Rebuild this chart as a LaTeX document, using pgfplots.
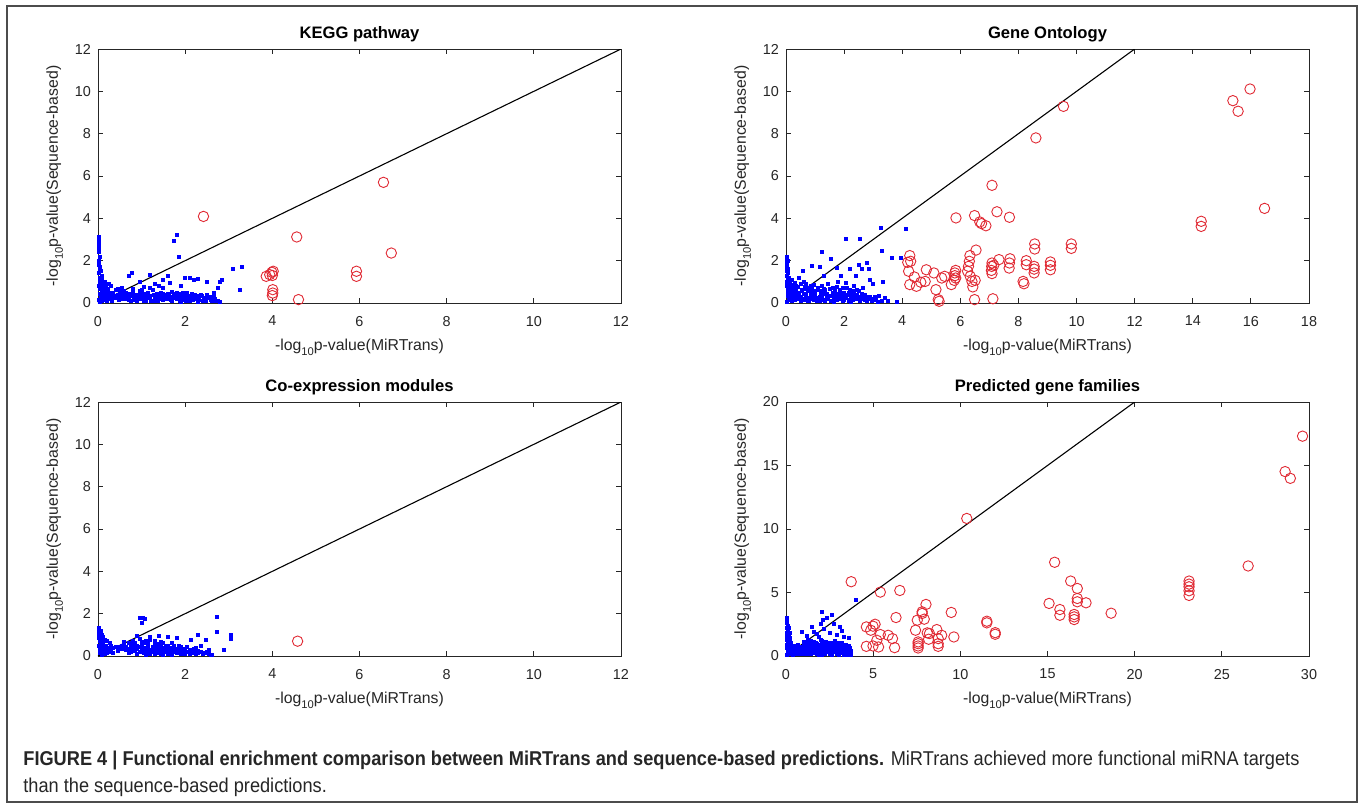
\documentclass[border=0pt]{standalone}
\usepackage{fontspec}
\setmainfont{Liberation Sans}
\newfontfamily\capfont[FakeStretch=0.91]{Liberation Sans}
\usepackage{pgfplots}
\pgfplotsset{compat=1.18}

\definecolor{mred}{rgb}{0.88,0.16,0.2}
\definecolor{mblue}{rgb}{0,0,1}
\definecolor{axgray}{gray}{0.15}

\newcommand{\mlog}{-log\raisebox{-0.6ex}{\fontsize{5.6}{6}\selectfont 10}}

\pgfplotsset{
  panel/.style={
    scale only axis, width=261.5pt, height=127pt,
    xmin=0, ymin=0,
    axis line style={axgray, line width=0.4pt},
    major tick length=2.5pt,
    every tick/.style={axgray, line width=0.4pt},
    tick label style={font=\fontsize{7.2}{8}\selectfont, text=axgray},
    /pgf/number format/assume math mode=true,
    xticklabel style={yshift=-3pt},
    every axis title/.style={at={(0.5,1)}, anchor=south,
      font=\bfseries\fontsize{8.3}{9}\selectfont},
    every axis x label/.style={at={(0.5,0)}, anchor=north, yshift=-14.5pt,
      font=\fontsize{7.9}{9}\selectfont, text=axgray},
    every axis y label/.style={at={(0,0.5)}, xshift=-14pt, rotate=90, anchor=south,
      font=\fontsize{7.9}{9}\selectfont, text=axgray},
    xlabel={\mlog p-value(MiRTrans)},
    ylabel={\mlog p-value(Sequence-based)},
  },
  blu/.style={only marks, mark=square*, mark size=0.75pt, color=mblue},
  rdo/.style={only marks, mark=o, mark size=2.6pt, color=mred, mark options={line width=0.45pt}},
  diag/.style={black, line width=0.55pt},
}

\begin{document}
\begin{tikzpicture}
\path[use as bounding box] (0,0) rectangle (681pt,-404pt);
\draw[gray!60!black, line width=0.7pt] (3.5pt,-3pt) rectangle (678.5pt,-401pt);

% KEGG pathway
\begin{axis}[panel, at={(49pt,-151.5pt)}, anchor=south west,
  title={KEGG pathway}, xmax=12, ymax=12, xtick={0,2,...,12}, ytick={0,2,...,12}]
\addplot[blu] coordinates {
(0.02,3.1)(0.02,3.0)(0.03,2.9)(0.02,2.8)(0.03,2.6)(0.02,2.4)(0.04,2.2)(0.03,2.0)(0.02,1.8)(0.05,1.7)
(0.04,1.6)(0.06,1.5)(0.03,1.4)(0.08,1.3)(0.05,1.2)(0.1,1.1)(0.04,1.0)(0.12,0.95)(0.07,0.9)(0.15,0.85)
(0.03,0.8)(0.1,0.75)(0.18,0.7)(0.05,0.65)(0.13,0.6)(0.2,0.55)(0.08,0.5)(0.25,0.5)(0.04,0.45)(0.16,0.4)
(0.3,0.42)(0.1,0.35)(0.22,0.3)(0.06,0.25)(0.35,0.28)(0.14,0.2)(0.03,0.15)(0.28,0.18)(0.09,0.1)(0.2,0.08)
(0.05,0.05)(0.4,0.35)(0.45,0.4)(0.5,0.45)(0.55,0.5)(0.6,0.55)(0.38,0.25)
(0.5,0.3)(0.6,0.38)(0.65,0.2)(0.7,0.45)(0.75,0.32)(0.8,0.5)(0.85,0.25)(0.9,0.4)(0.95,0.55)(1.0,0.3)
(1.05,0.45)(1.1,0.2)(1.15,0.5)(1.2,0.35)(1.25,0.6)(1.3,0.25)(1.35,0.42)(1.4,0.3)(1.45,0.5)(1.5,0.15)
(1.55,0.38)(1.6,0.45)(1.65,0.28)(1.7,0.52)(1.75,0.35)(1.8,0.2)(1.85,0.42)(1.9,0.3)(1.95,0.48)(2.0,0.25)
(2.05,0.38)(2.1,0.12)(2.15,0.45)(2.2,0.3)(2.25,0.2)(2.3,0.35)(2.4,0.1)(2.45,0.25)(2.5,0.4)(2.6,0.15)
(2.7,0.08)(2.8,0.05)(0.7,0.15)(0.9,0.1)(1.1,0.08)(1.3,0.12)(1.7,0.1)(1.9,0.07)(2.3,0.06)(1.0,0.6)
(1.2,0.7)(0.8,0.65)(0.55,0.2)(0.75,0.1)(0.95,0.18)(1.15,0.3)(1.35,0.2)(1.55,0.25)(1.75,0.45)(1.95,0.15)
(2.15,0.22)(2.35,0.4)(2.55,0.3)(2.65,0.35)(1.05,0.1)(1.45,0.35)(1.85,0.3)(2.05,0.5)
(0.15,0.15)(0.25,0.35)(0.32,0.12)(0.42,0.22)(0.48,0.15)(0.58,0.42)(0.62,0.28)(0.68,0.35)(0.72,0.25)(0.78,0.42)
(0.82,0.15)(0.88,0.32)(0.92,0.22)(0.98,0.42)(1.02,0.18)(1.08,0.35)(1.12,0.42)(1.18,0.22)(1.22,0.12)(1.28,0.4)
(1.32,0.32)(1.38,0.1)(1.42,0.18)(1.48,0.42)(1.52,0.3)(1.58,0.2)(1.62,0.35)(1.68,0.15)(1.72,0.25)(1.78,0.3)
(1.82,0.5)(1.88,0.12)(1.92,0.4)(1.98,0.35)(2.02,0.12)(2.08,0.28)(2.12,0.35)(2.18,0.15)(2.22,0.4)(2.28,0.28)
(2.32,0.15)(2.38,0.32)(2.42,0.2)(2.48,0.12)(2.52,0.22)(2.58,0.28)(2.62,0.08)(2.68,0.2)(2.75,0.12)(0.12,0.5)
(0.22,0.65)(0.08,0.7)(0.3,0.8)(0.15,1.0)(0.06,1.15)(0.25,0.9)(0.45,0.65)(0.35,0.5)(0.5,0.6)(0.65,0.5)
(0.7,1.3)(0.78,1.4)(0.95,1.0)(1.2,1.35)(1.3,0.9)(1.5,1.1)(1.6,1.3)(1.65,0.95)(1.75,2.95)(1.82,3.2)
(1.85,2.2)(2.0,1.2)(2.1,1.2)(2.2,1.1)(2.3,1.15)(2.5,1.0)(2.8,1.0)(2.85,1.1)(3.1,1.6)(3.3,1.7)
(3.25,0.6)(2.65,0.5)(2.75,0.7)(1.4,0.8)(0.55,0.7)(0.4,0.6)(1.05,0.75)(1.5,0.7)(1.9,0.8)
};
\addplot[rdo] coordinates {
(2.42,4.09)(6.55,5.70)(4.56,3.12)(6.73,2.36)(5.93,1.50)(5.93,1.26)
(3.86,1.26)(3.94,1.34)(3.99,1.45)(4.02,1.50)(4.00,1.30)
(4.01,0.63)(4.01,0.47)(4.00,0.35)(4.60,0.16)
};
\addplot[diag] coordinates {(0,0)(12,12)};
\end{axis}

% Gene Ontology
\begin{axis}[panel, at={(393pt,-151.5pt)}, anchor=south west,
  title={Gene Ontology}, xmax=18, ymax=12, xtick={0,2,...,18}, ytick={0,2,...,12}]
\addplot[blu] coordinates {
(0.02,2.2)(0.03,2.1)(0.05,2.0)(0.02,1.9)(0.04,1.8)(0.03,1.7)(0.06,1.6)(0.02,1.5)(0.08,1.4)(0.04,1.3)
(0.1,1.2)(0.05,1.1)(0.12,1.05)(0.03,1.0)(0.15,0.95)(0.07,0.9)(0.2,0.85)(0.04,0.8)(0.1,0.75)(0.25,0.7)
(0.06,0.65)(0.18,0.6)(0.3,0.55)(0.08,0.5)(0.22,0.45)(0.35,0.4)(0.05,0.35)(0.14,0.3)(0.28,0.25)(0.4,0.2)
(0.09,0.15)(0.2,0.1)(0.5,0.08)(0.03,0.05)(0.45,0.5)(0.55,0.55)(0.65,0.65)(0.75,0.7)(0.85,0.8)(0.6,1.0)
(0.5,0.9)(0.4,0.75)
(0.5,0.3)(0.6,0.15)(0.7,0.4)(0.8,0.25)(0.9,0.55)(1.0,0.35)(1.1,0.6)(1.2,0.2)(1.3,0.45)(1.4,0.3)
(1.5,0.65)(1.6,0.1)(1.7,0.4)(1.8,0.25)(1.9,0.5)(2.0,0.35)(2.1,0.7)(2.2,0.15)(2.3,0.45)(2.4,0.3)
(2.5,0.55)(2.6,0.2)(2.7,0.4)(2.8,0.1)(2.9,0.3)(3.0,0.2)(3.1,0.15)(3.3,0.1)(3.5,0.08)(3.8,0.06)
(0.65,0.75)(0.95,0.85)(1.25,0.8)(1.45,0.9)(1.75,0.75)(2.05,0.95)(2.35,0.8)(2.65,0.7)(0.75,0.1)(1.05,0.12)
(1.35,0.08)(1.65,0.05)(1.95,0.1)(2.25,0.06)(2.55,0.1)(0.85,0.45)(1.15,0.3)(1.55,0.35)(1.85,0.6)(2.15,0.5)
(2.45,0.6)(2.75,0.25)(3.2,0.35)(3.4,0.25)(0.55,0.6)(1.0,0.55)(1.3,0.65)(1.6,0.5)(2.0,0.15)(2.3,0.25)
(0.9,0.2)(1.2,0.4)(1.7,0.2)(2.6,0.45)
(0.15,0.5)(0.25,0.35)(0.3,0.15)(0.35,0.6)(0.45,0.3)(0.55,0.2)(0.6,0.45)(0.7,0.25)(0.75,0.55)(0.8,0.1)
(0.85,0.35)(0.9,0.65)(0.95,0.15)(1.0,0.45)(1.05,0.25)(1.1,0.7)(1.15,0.1)(1.2,0.55)(1.25,0.3)(1.3,0.15)
(1.35,0.6)(1.4,0.45)(1.45,0.2)(1.5,0.35)(1.55,0.1)(1.6,0.7)(1.65,0.3)(1.7,0.55)(1.75,0.15)(1.8,0.45)
(1.85,0.3)(1.9,0.2)(1.95,0.7)(2.0,0.5)(2.05,0.25)(2.1,0.4)(2.15,0.1)(2.2,0.6)(2.25,0.35)(2.3,0.15)
(2.35,0.55)(2.4,0.2)(2.45,0.4)(2.5,0.3)(2.55,0.15)(2.6,0.35)(2.7,0.15)(2.8,0.3)(2.85,0.2)(2.95,0.1)
(3.05,0.3)(3.15,0.05)(0.1,0.55)(0.2,0.3)(0.12,0.8)(0.3,0.95)(0.22,1.1)(0.35,0.8)(0.45,1.2)(0.7,0.9)
(3.25,3.57)(4.14,3.5)(2.05,3.04)(2.54,3.04)(1.23,2.41)(1.53,2.08)(3.29,2.44)(3.64,2.13)(3.97,2.13)(1.75,1.65)
(0.9,1.73)(0.57,1.5)(2.21,1.61)(2.4,1.26)(2.87,1.61)(1.3,1.3)(1.8,1.0)(2.9,1.1)(2.6,1.6)(3.0,0.9)
(2.5,1.8)(2.8,1.9)(1.9,1.3)(3.35,1.0)(1.15,1.7)
};
\addplot[rdo] coordinates {
(9.55,9.29)(15.38,9.56)(15.97,10.11)(15.56,9.06)(8.60,7.80)(7.09,5.56)(16.47,4.47)
(5.85,4.02)(6.49,4.13)(6.67,3.83)(6.73,3.75)(6.88,3.65)(7.26,4.31)(7.69,4.05)(14.29,3.86)(14.29,3.62)
(8.56,2.79)(8.56,2.55)(9.82,2.79)(9.82,2.58)(6.54,2.50)(4.26,2.24)(4.19,1.92)(4.29,1.97)
(6.33,2.24)(6.31,1.97)(6.28,1.73)(6.25,1.50)(7.09,1.89)(7.08,1.73)(7.07,1.54)(7.09,1.39)(7.15,1.78)
(7.33,2.05)(7.71,2.09)(7.69,1.89)(7.68,1.65)(8.27,2.00)(8.27,1.81)(8.54,1.73)(8.54,1.60)(8.54,1.42)
(9.10,1.94)(9.10,1.78)(9.10,1.57)(8.16,1.02)(8.19,0.91)
(4.22,1.50)(4.42,1.23)(4.49,0.79)(4.64,0.98)(4.79,1.02)(4.26,0.87)(4.83,1.57)(5.09,1.42)(5.16,0.63)
(5.24,0.16)(5.27,0.08)(5.36,1.18)(5.46,1.26)(5.69,0.87)(5.81,1.42)(5.81,1.29)(5.84,1.18)(5.79,1.07)(5.84,1.54)
(6.34,1.26)(6.40,1.02)(6.43,0.76)(6.51,1.07)(6.49,0.16)(7.12,0.20)
};
\addplot[diag] coordinates {(0,0)(12,12)};
\end{axis}

% Co-expression modules
\begin{axis}[panel, at={(49pt,-328pt)}, anchor=south west,
  title={Co-expression modules}, xmax=12, ymax=12, xtick={0,2,...,12}, ytick={0,2,...,12}]
\addplot[blu] coordinates {
(0.02,1.35)(0.03,1.25)(0.04,1.15)(0.02,1.05)(0.05,0.95)(0.03,0.85)(0.08,0.8)(0.04,0.7)(0.1,0.65)(0.06,0.6)
(0.12,0.55)(0.03,0.5)(0.15,0.45)(0.07,0.4)(0.2,0.35)(0.05,0.3)(0.1,0.25)(0.25,0.2)(0.04,0.15)(0.15,0.1)
(0.08,0.05)(0.3,0.3)(0.35,0.38)(0.4,0.42)(0.2,0.7)(0.28,0.6)(0.12,0.9)(0.18,0.5)(0.35,0.15)(0.45,0.25)
(0.5,0.45)(0.55,0.35)(0.6,0.55)(0.65,0.3)(0.7,0.6)(0.75,0.4)(0.8,0.7)(0.85,0.25)(0.9,0.5)(0.95,0.8)
(1.0,0.35)(1.05,0.6)(1.1,0.2)(1.15,0.5)(1.2,0.75)(1.25,0.3)(1.3,0.55)(1.35,0.15)(1.4,0.45)(1.45,0.65)
(1.5,0.25)(1.55,0.5)(1.6,0.1)(1.65,0.4)(1.7,0.6)(1.75,0.2)(1.8,0.35)(1.85,0.5)(1.9,0.1)(1.95,0.3)
(2.0,0.2)(2.05,0.45)(2.1,0.08)(2.15,0.3)(2.2,0.15)(2.3,0.25)(2.4,0.1)(2.5,0.2)(2.6,0.05)(0.7,0.15)
(0.9,0.1)(1.1,0.05)(1.3,0.08)(1.5,0.05)(1.7,0.05)(0.95,0.45)(1.25,0.45)(1.55,0.35)(1.85,0.25)(1.05,0.3)
(1.35,0.35)(0.8,0.5)(1.2,0.1)(1.4,0.25)(1.6,0.3)(2.0,0.1)(0.75,0.2)(1.15,0.15)(1.45,0.1)(1.75,0.4)
(2.25,0.4)(1.9,0.45)
(0.1,0.45)(0.15,0.3)(0.2,0.15)(0.25,0.4)(0.3,0.5)(0.45,0.35)(0.55,0.5)(0.6,0.4)(0.65,0.45)(0.7,0.35)
(0.75,0.55)(0.8,0.3)(0.85,0.45)(0.9,0.35)(0.95,0.2)(1.0,0.5)(1.05,0.15)(1.1,0.4)(1.15,0.65)(1.2,0.3)
(1.25,0.2)(1.3,0.4)(1.35,0.55)(1.4,0.35)(1.45,0.5)(1.5,0.4)(1.55,0.2)(1.6,0.5)(1.65,0.25)(1.7,0.35)
(1.75,0.5)(1.8,0.15)(1.85,0.4)(1.9,0.3)(1.95,0.15)(2.0,0.35)(2.05,0.2)(2.1,0.3)(2.15,0.15)(2.2,0.35)
(2.25,0.1)(2.3,0.15)(2.35,0.2)(2.45,0.15)(2.55,0.1)(0.05,0.8)(0.1,1.0)(0.15,0.75)(0.06,1.2)(1.0,0.65)
(1.1,0.7)(1.3,0.7)(1.5,0.6)(0.6,0.65)(0.85,0.6)
(0.97,1.8)(1.03,1.8)(1.07,1.75)(1.0,1.55)(1.4,0.95)(1.6,0.9)(1.8,0.85)(2.29,0.98)(2.14,0.74)(2.47,0.74)
(2.72,1.85)(2.72,1.15)(3.05,0.8)(3.05,0.88)(3.05,0.95)(3.05,1.02)(2.89,0.27)(2.54,0.3)(2.62,0.03)(2.35,0.5)
(0.9,0.95)(1.2,0.9)
};
\addplot[rdo] coordinates {(4.58,0.70)};
\addplot[diag] coordinates {(0,0)(12,12)};
\end{axis}

% Predicted gene families
\begin{axis}[panel, at={(393pt,-328pt)}, anchor=south west,
  title={Predicted gene families}, xmax=30, ymax=20, xtick={0,5,...,30}, ytick={0,5,...,20}]
\addplot[blu] coordinates {
(0.05,3.0)(0.08,2.8)(0.05,2.6)(0.1,2.4)(0.06,2.2)(0.12,2.0)(0.05,1.8)(0.15,1.6)(0.08,1.5)(0.2,1.4)
(0.06,1.3)(0.25,1.2)(0.1,1.1)(0.3,1.0)(0.05,0.9)(0.18,0.8)(0.4,0.7)(0.08,0.6)(0.3,0.5)(0.5,0.4)
(0.12,0.3)(0.6,0.25)(0.2,0.15)(0.05,0.05)(0.4,0.1)
(0.7,0.9)(0.9,0.5)(1.0,1.1)(1.1,0.3)(1.2,0.8)(1.3,0.15)(1.4,1.2)(1.5,0.6)(1.6,0.25)(1.7,1.0)
(1.8,0.45)(1.9,0.1)(2.0,1.3)(2.1,0.7)(2.2,0.3)(2.3,1.1)(2.4,0.5)(2.5,0.15)(2.6,0.9)(2.7,0.4)
(2.8,1.2)(2.9,0.2)(3.0,0.7)(3.1,0.35)(3.2,1.0)(3.3,0.1)(3.4,0.55)(3.5,0.25)(3.6,0.8)(3.7,0.1)
(3.7,0.4)(0.8,0.2)(1.05,0.7)(1.35,0.45)(1.65,0.75)(1.95,0.55)(2.25,0.9)(2.55,0.6)(2.85,0.75)(3.15,0.6)
(3.45,0.9)(1.25,0.55)(1.75,0.2)(2.05,0.05)(2.65,0.1)(3.05,0.05)(3.55,0.05)(1.55,0.9)(2.45,1.0)(2.95,1.0)
(0.6,0.6)(0.75,0.35)(1.15,1.0)(1.45,0.3)(1.85,0.85)(2.15,0.2)(2.35,0.35)(2.75,0.55)(3.25,0.3)(3.35,0.75)
(0.3,0.3)(0.4,0.5)(0.5,0.2)(0.5,0.8)(0.65,0.15)(0.7,0.5)(0.8,0.7)(0.85,0.3)(0.95,0.15)(1.0,0.6)
(1.1,0.9)(1.15,0.4)(1.2,0.15)(1.3,0.65)(1.35,0.95)(1.45,0.15)(1.5,0.4)(1.55,0.7)(1.6,1.1)(1.7,0.5)
(1.75,0.95)(1.8,0.15)(1.85,0.65)(1.95,0.3)(2.0,0.85)(2.05,1.15)(2.1,0.45)(2.2,0.65)(2.25,0.15)(2.3,0.75)
(2.4,0.3)(2.45,0.8)(2.5,0.45)(2.6,0.25)(2.65,0.7)(2.7,1.05)(2.8,0.35)(2.85,0.55)(2.9,0.9)(3.0,0.15)
(3.05,0.45)(3.1,0.85)(3.2,0.25)(3.25,0.7)(3.3,0.45)(3.4,0.2)(3.45,0.65)(3.5,0.45)(3.6,0.2)(3.65,0.6)
(0.15,0.6)(0.25,0.9)(0.1,1.4)(0.2,1.8)(0.15,2.2)
(3.99,4.4)(2.04,3.48)(2.32,3.0)(2.62,3.21)(2.12,2.82)(1.5,2.29)(1.75,1.77)(1.25,1.24)(1.0,0.84)(2.74,2.55)
(3.07,2.29)(1.6,1.9)(2.2,2.1)(2.9,1.7)(1.9,1.5)(2.5,1.8)(3.3,1.5)(0.9,1.9)(1.2,1.6)(2.0,2.5)
(3.6,1.4)(3.2,2.0)
};
\addplot[rdo] coordinates {
(29.63,17.31)(28.63,14.52)(28.93,13.99)(10.37,10.83)(15.41,7.38)(26.51,7.09)
(3.74,5.85)(5.41,5.03)(6.53,5.16)(16.33,5.90)(16.71,5.32)(16.71,4.53)(16.71,4.27)(17.21,4.19)
(15.09,4.14)(15.71,3.66)(15.71,3.21)(16.53,3.27)(16.53,3.08)(16.53,2.87)(18.65,3.37)
(23.12,5.90)(23.12,5.66)(23.12,5.45)(23.12,5.14)(23.12,4.77)
(9.48,3.43)(8.03,4.06)(7.81,3.48)(7.81,3.35)(7.93,2.90)(7.53,2.82)(6.31,3.03)
(11.52,2.74)(11.52,2.61)(12.00,1.84)(12.00,1.71)(7.43,2.03)
(4.61,2.29)(4.99,2.35)(5.11,2.50)(4.86,2.03)(5.41,1.69)(5.86,1.63)(6.11,1.37)
(5.21,1.24)(4.99,0.79)(5.31,0.71)(4.61,0.76)(6.23,0.66)
(7.58,0.97)(7.58,0.79)(7.58,0.63)(7.58,1.11)(8.10,1.82)(8.23,1.77)(8.18,1.32)
(8.65,2.08)(8.73,1.37)(8.73,0.97)(8.73,0.76)(8.93,1.63)(9.63,1.50)
};
\addplot[diag] coordinates {(0,0)(20,20)};
\end{axis}

% caption
\node[anchor=base west, inner sep=0pt, text=black!85] at (11.5pt,-382.5pt)
  {\capfont\fontsize{10}{11}\selectfont\textbf{FIGURE 4 | Functional enrichment comparison between MiRTrans and sequence-based predictions.} MiRTrans achieved more functional miRNA targets};
\node[anchor=base west, inner sep=0pt, text=black!85] at (11.5pt,-396pt)
  {\capfont\fontsize{10}{11}\selectfont than the sequence-based predictions.};
\end{tikzpicture}
\end{document}
